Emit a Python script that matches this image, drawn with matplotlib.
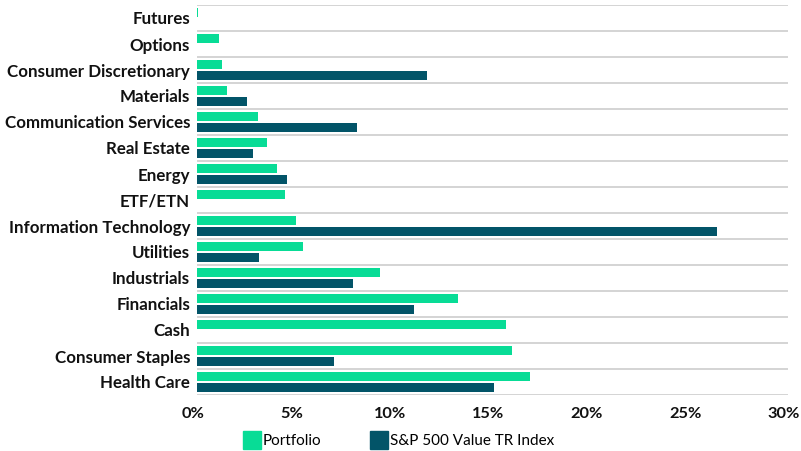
import numpy as np
import matplotlib
matplotlib.use("Agg")
import matplotlib.pyplot as plt
import matplotlib.transforms as mtransforms
from matplotlib.lines import Line2D

# sectors, top to bottom
categories = ["Futures", "Options", "Consumer Discretionary", "Materials",
              "Communication Services", "Real Estate", "Energy", "ETF/ETN",
              "Information Technology", "Utilities", "Industrials", "Financials",
              "Cash", "Consumer Staples", "Health Care"]
portfolio = [0.05, 1.1, 1.25, 1.5, 3.1, 3.55, 4.05, 4.45, 5.0, 5.4, 9.3, 13.25, 15.7, 16.0, 16.9]
index_vals = [0.0, 0.0, 11.7, 2.55, 8.1, 2.85, 4.55, 0.0, 26.4, 3.15, 7.9, 11.0, 0.0, 6.95, 15.1]
xticks = [0, 5, 10, 15, 20, 25, 30]
series_names = ["Portfolio", "S&P 500 Value TR Index"]

green = "#08dc96"
teal = "#025468"

plt.rcParams['font.family'] = ['Lato', 'DejaVu Sans']

fig = plt.figure(figsize=(8.01, 4.51), dpi=100)
ax = fig.add_axes([197 / 801, 56 / 451, 591 / 801, 390 / 451])

y = np.arange(len(categories))
h = 0.35
ax.barh(y - 0.21, portfolio, height=h, color=green, zorder=3)
ax.barh(y + 0.21, index_vals, height=h, color=teal, zorder=3)

# separators between categories
for b in np.arange(len(categories) + 1) - 0.5:
    ax.axhline(b, color="#d4d4d4", lw=1.4, zorder=1)

ax.set_xlim(0, 30)
ax.set_ylim(len(categories) - 0.5, -0.5)
ax.set_yticks(y)
ax.set_yticklabels(categories, fontsize=12.2, fontweight="bold", color="#111111")
ax.set_xticks(xticks)
ax.set_xticklabels([f"{t}%" for t in xticks], fontsize=11.8, fontweight="bold", color="#111111")
ax.tick_params(axis="both", length=0)
ax.tick_params(axis="y", pad=5)
ax.tick_params(axis="x", pad=9)
shift = mtransforms.ScaledTranslation(-4 / 100, 0, fig.dpi_scale_trans)
for lbl in ax.get_xticklabels():
    lbl.set_transform(lbl.get_transform() + shift)
for s in ax.spines.values():
    s.set_visible(False)

handles = [Line2D([], [], marker="s", ls="", markersize=13.5, color=green),
           Line2D([], [], marker="s", ls="", markersize=13.5, color=teal)]
fig.legend(handles, series_names, loc="center", bbox_to_anchor=(399 / 801, 10 / 451),
           ncol=2, frameon=False, fontsize=11, handletextpad=0.2, columnspacing=3.3,
           handlelength=1.0)

fig.savefig("out.png", dpi=100)
